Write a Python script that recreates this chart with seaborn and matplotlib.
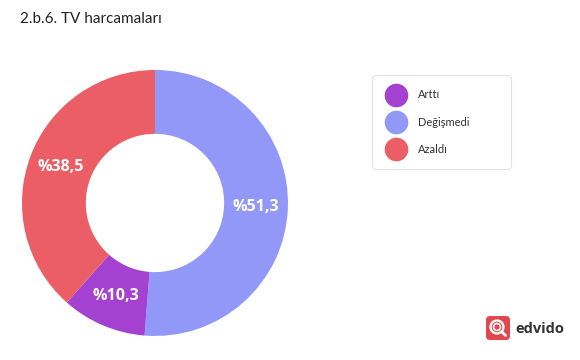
import matplotlib
matplotlib.use('Agg')
import matplotlib.pyplot as plt
import seaborn as sns
from matplotlib.patches import FancyBboxPatch, Circle
from matplotlib.lines import Line2D

# ================= data =================
categories = ['Arttı', 'Değişmedi', 'Azaldı']
values = [10.3, 51.3, 38.5]
colors = ['#A541D1', '#9198F7', '#EC5E66']
# drawing order (clockwise from the top)
draw_order = [1, 0, 2]
title = '2.b.6. TV harcamaları'

sns.set_theme(style='white')
plt.rcParams['font.family'] = ['Open Sans', 'DejaVu Sans']

fig = plt.figure(figsize=(5.8, 3.6), dpi=100)
fig.patch.set_facecolor('white')

ax = fig.add_axes([0.0379, 0.0667, 0.4586, 0.739])
vals = [values[i] for i in draw_order]
cols = [colors[i] for i in draw_order]
labels = ['%' + f'{v:.1f}'.replace('.', ',') for v in vals]

wedges, texts = ax.pie(vals, colors=cols, startangle=90, counterclock=False,
                       radius=1, labels=labels, labeldistance=0.76,
                       wedgeprops=dict(width=0.48, linewidth=0),
                       textprops=dict(color='white', fontsize=11.5, fontweight='bold',
                                      ha='center', va='center'))
ax.set_xlim(-1, 1)
ax.set_ylim(-1, 1)
ax.set_aspect('equal')
ax.axis('off')

fig.text(20 / 580, 1 - 19 / 360, title, fontsize=11, color='#222222',
         ha='left', va='center', family=['Lato', 'DejaVu Sans'])

# legend
handles = [Line2D([0], [0], marker='o', linestyle='', markersize=17,
                  markerfacecolor=c, markeredgewidth=0) for c in colors]
leg = fig.legend(handles, categories, loc='upper left', mode='expand',
                 bbox_to_anchor=(372 / 580, 1 - 168 / 360, 139 / 580, 93 / 360),
                 frameon=True, labelspacing=1.45, borderaxespad=0,
                 handletextpad=1.0, borderpad=1.3, handlelength=1.8,
                 prop=dict(family=['Lato', 'DejaVu Sans'], size=8))
leg.get_frame().set_edgecolor('#dddddd')
leg.get_frame().set_linewidth(0.8)
leg.get_frame().set_boxstyle('round,pad=0,rounding_size=0.4')
for t in leg.get_texts():
    t.set_color('#333333')

# edvido logo
fx, fy = 486 / 580, 1 - 340 / 360
lax = fig.add_axes([fx, fy, 24 / 580, 24 / 360], zorder=5)
lax.set_xlim(0, 24)
lax.set_ylim(0, 24)
lax.axis('off')
lax.add_patch(FancyBboxPatch((0, 0), 24, 24, boxstyle='round,pad=0,rounding_size=4',
                             facecolor='#E2474E', edgecolor='none'))
lax.add_patch(Circle((11, 13), 6.5, fill=False, edgecolor='white', linewidth=1.6))
lax.add_patch(Circle((11, 13), 3.5, fill=False, edgecolor='white', linewidth=1.2))
lax.plot([15.5, 19.5], [8.5, 4.5], color='white', linewidth=2, solid_capstyle='round')
fig.text(515 / 580, 1 - 329 / 360, 'edvido', fontsize=10.5, fontweight='bold',
         color='#333333', ha='left', va='center')

fig.savefig('out.png', dpi=100, facecolor='white')
